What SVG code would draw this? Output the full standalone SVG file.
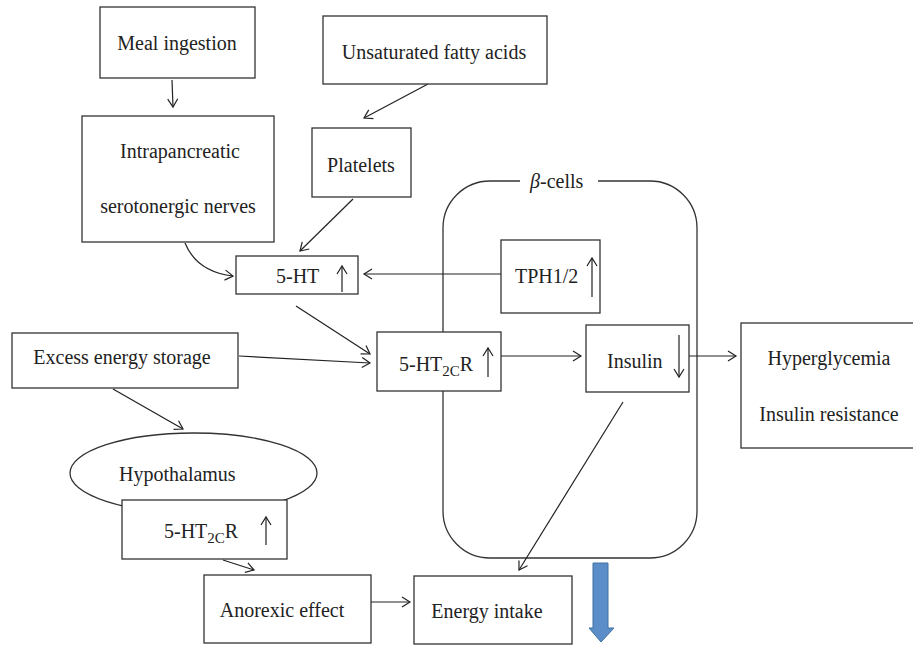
<svg xmlns="http://www.w3.org/2000/svg" width="913" height="646" viewBox="0 0 913 646">
<style>
.box{fill:#fff;stroke:#333;stroke-width:1.3}
.ln{fill:none;stroke:#222;stroke-width:1.2;marker-end:url(#ah)}
.t{font-family:"Liberation Serif","Times New Roman",serif;font-size:20px;fill:#222}
.s{font-size:15px}
.m{text-anchor:middle}
</style>
<defs>
<marker id="ah" markerUnits="userSpaceOnUse" markerWidth="20" markerHeight="20" viewBox="-10 -10 20 20" refX="0" refY="0" orient="auto">
<path d="M-8,-5 L0,0 L-8,5" fill="none" stroke="#222" stroke-width="1.2"/>
</marker>
</defs>
<g id="beta-cells">
<path d="M520,181 L490,181 A47,47 0 0 0 443,228 L443,511 A47,47 0 0 0 490,558 L650,558 A47,47 0 0 0 697,511 L697,228 A47,47 0 0 0 650,181 L598,181" fill="none" stroke="#333" stroke-width="1.3"/>
<text class="t" x="530" y="188"><tspan font-style="italic">β</tspan>-cells</text>
</g>
<g id="connectors">
<path class="ln" d="M172,80 L173,107"/>
<path class="ln" d="M428,84 L364,118"/>
<path class="ln" d="M353,199 L300,251"/>
<path class="ln" d="M185,243 Q197,272 233,276"/>
<path class="ln" d="M501,274 L364,274"/>
<path class="ln" d="M296,306 L370,354"/>
<path class="ln" d="M239,356 L370,363"/>
<path class="ln" d="M501,356 L581,356"/>
<path class="ln" d="M689,356 L736,356"/>
<path class="ln" d="M623,402 L519,570"/>
<path class="ln" d="M113,389 L183,429"/>
<path class="ln" d="M223,560 L254,570"/>
<path class="ln" d="M371,602 L410,602"/>
</g>
<g id="meal">
<rect class="box" x="100" y="7" width="155" height="71"/>
<text class="t m" x="177" y="50">Meal ingestion</text>
</g>
<g id="ufa">
<rect class="box" x="323" y="16" width="224" height="68"/>
<text class="t m" x="434" y="59">Unsaturated fatty acids</text>
</g>
<g id="intra">
<rect class="box" x="82" y="116" width="192" height="126"/>
<text class="t m" x="180" y="158">Intrapancreatic</text>
<text class="t m" x="178" y="213">serotonergic nerves</text>
</g>
<g id="platelets">
<rect class="box" x="312" y="128" width="99" height="69"/>
<text class="t m" x="361" y="172">Platelets</text>
</g>
<g id="ht">
<rect class="box" x="236" y="256" width="122" height="38"/>
<text class="t" x="276" y="283">5-HT</text>
<path class="ln" d="M342,292 L342,266"/>
</g>
<g id="tph">
<rect class="box" x="501" y="240" width="99" height="73"/>
<text class="t" x="515" y="283">TPH1/2</text>
<path class="ln" d="M592,297 L592,258"/>
</g>
<g id="ht2cr">
<rect class="box" x="377" y="332" width="124" height="59"/>
<text class="t" x="399" y="371">5-HT<tspan class="s" dy="5">2C</tspan><tspan dy="-5">R</tspan></text>
<path class="ln" d="M488,377 L488,348"/>
</g>
<g id="insulin">
<rect class="box" x="586" y="325" width="103" height="67"/>
<text class="t" x="607" y="368">Insulin</text>
<path class="ln" d="M679,335 L679,377"/>
</g>
<g id="hyper">
<rect class="box" x="741" y="323" width="180" height="125"/>
<text class="t m" x="829" y="365">Hyperglycemia</text>
<text class="t m" x="829" y="421">Insulin resistance</text>
</g>
<g id="excess">
<rect class="box" x="12" y="333" width="226" height="55"/>
<text class="t m" x="122" y="364">Excess energy storage</text>
</g>
<g id="hypothalamus">
<ellipse cx="193.5" cy="473" rx="123.5" ry="40" fill="#fff" stroke="#333" stroke-width="1.3"/>
<text class="t" x="119" y="481">Hypothalamus</text>
</g>
<g id="hyp-ht2cr">
<rect class="box" x="122" y="500" width="165" height="59"/>
<text class="t" x="164" y="538">5-HT<tspan class="s" dy="5">2C</tspan><tspan dy="-5">R</tspan></text>
<path class="ln" d="M266,545 L266,517"/>
</g>
<g id="anorexic">
<rect class="box" x="204" y="575" width="167" height="68"/>
<text class="t m" x="282" y="617">Anorexic effect</text>
</g>
<g id="energy">
<rect class="box" x="414" y="576" width="158" height="68"/>
<text class="t m" x="487" y="618">Energy intake</text>
</g>
<g id="down-arrow">
<polygon points="593,563 608,563 608,628 614,628 601,642 589,628 593,628" fill="#5b8ec9" stroke="#41709f" stroke-width="1"/>
</g>
</svg>
